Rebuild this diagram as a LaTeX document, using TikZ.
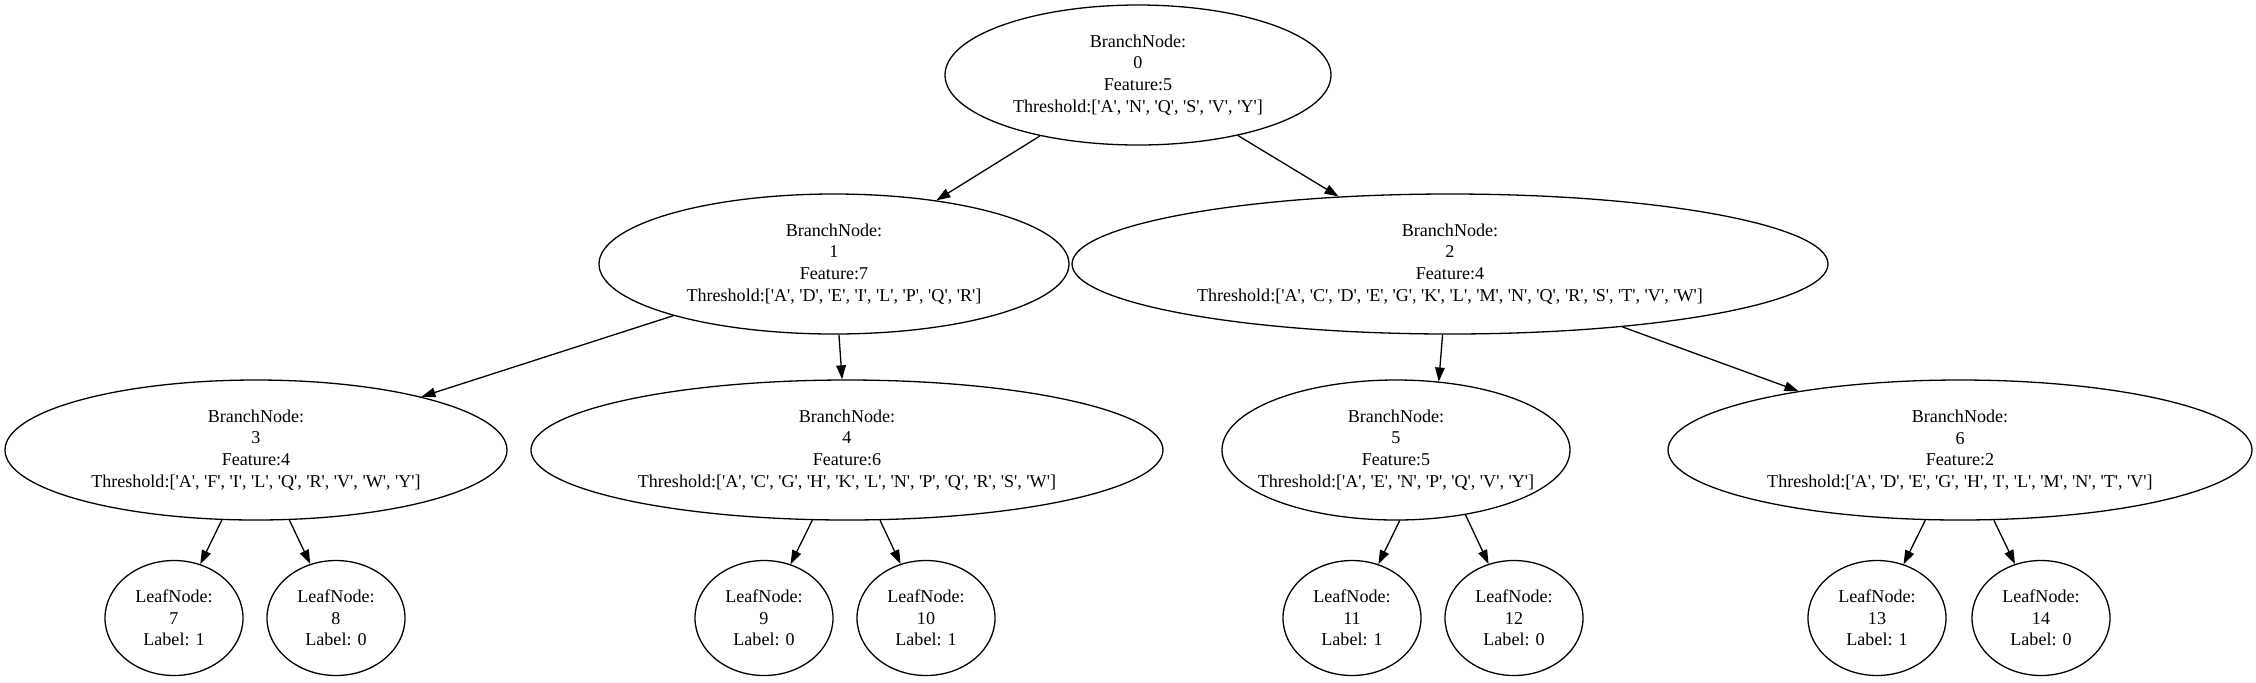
\documentclass[tikz,border=0pt]{standalone}
\usepackage{fontspec}
\setmainfont{Liberation Serif}
\usetikzlibrary{shapes.geometric, arrows.meta}
\newcommand{\tq}[1]{\textquotesingle#1\textquotesingle}

\begin{document}
\begin{tikzpicture}[x=0.5pt, y=-0.5pt, every node/.style={font=\fontsize{9.03pt}{10.84pt}\selectfont}]
    \tikzstyle{branch} = [ellipse, draw, line width=0.65pt, inner xsep=-40pt, inner ysep=0pt, minimum height=70pt, align=center]
    \tikzstyle{leaf} = [ellipse, draw, line width=0.65pt, inner sep=0pt, minimum width=69pt, minimum height=57.5pt, align=center]
    \tikzstyle{edge} = [-{Triangle[length=7pt, width=4.8pt]}, line width=0.65pt]

    \useasboundingbox (0,0) rectangle (2256,682);

    % branch nodes
    \node[branch, minimum width=193pt] (b0) at (1138,75) {BranchNode:\\0\\Feature:5\\Threshold:[\tq{A}, \tq{N}, \tq{Q}, \tq{S}, \tq{V}, \tq{Y}]};
    \node[branch, minimum width=235pt] (b1) at (834,264) {BranchNode:\\1\\Feature:7\\Threshold:[\tq{A}, \tq{D}, \tq{E}, \tq{I}, \tq{L}, \tq{P}, \tq{Q}, \tq{R}]};
    \node[branch, minimum width=378pt] (b2) at (1450,264) {BranchNode:\\2\\Feature:4\\Threshold:[\tq{A}, \tq{C}, \tq{D}, \tq{E}, \tq{G}, \tq{K}, \tq{L}, \tq{M}, \tq{N}, \tq{Q}, \tq{R}, \tq{S}, \tq{T}, \tq{V}, \tq{W}]};
    \node[branch, minimum width=251pt] (b3) at (256,450) {BranchNode:\\3\\Feature:4\\Threshold:[\tq{A}, \tq{F}, \tq{I}, \tq{L}, \tq{Q}, \tq{R}, \tq{V}, \tq{W}, \tq{Y}]};
    \node[branch, minimum width=316pt] (b4) at (847,450) {BranchNode:\\4\\Feature:6\\Threshold:[\tq{A}, \tq{C}, \tq{G}, \tq{H}, \tq{K}, \tq{L}, \tq{N}, \tq{P}, \tq{Q}, \tq{R}, \tq{S}, \tq{W}]};
    \node[branch, minimum width=174pt] (b5) at (1396,450) {BranchNode:\\5\\Feature:5\\Threshold:[\tq{A}, \tq{E}, \tq{N}, \tq{P}, \tq{Q}, \tq{V}, \tq{Y}]};
    \node[branch, minimum width=292pt] (b6) at (1960,450) {BranchNode:\\6\\Feature:2\\Threshold:[\tq{A}, \tq{D}, \tq{E}, \tq{G}, \tq{H}, \tq{I}, \tq{L}, \tq{M}, \tq{N}, \tq{T}, \tq{V}]};

    % leaf nodes
    \node[leaf] (l7) at (174,618) {LeafNode:\\7\\Label: 1};
    \node[leaf] (l8) at (336,618) {LeafNode:\\8\\Label: 0};
    \node[leaf] (l9) at (764,618) {LeafNode:\\9\\Label: 0};
    \node[leaf] (l10) at (926,618) {LeafNode:\\10\\Label: 1};
    \node[leaf] (l11) at (1352,618) {LeafNode:\\11\\Label: 1};
    \node[leaf] (l12) at (1514,618) {LeafNode:\\12\\Label: 0};
    \node[leaf] (l13) at (1877,618) {LeafNode:\\13\\Label: 1};
    \node[leaf] (l14) at (2041,618) {LeafNode:\\14\\Label: 0};

    \draw[edge] (b0) -- (b1);
    \draw[edge] (b0) -- (b2);
    \draw[edge] (b1) -- (b3);
    \draw[edge] (b1) -- (b4);
    \draw[edge] (b2.264) -- (b5.58);
    \draw[edge] (b2) -- (b6);
    \draw[edge] (b3) -- (l7);
    \draw[edge] (b3) -- (l8);
    \draw[edge] (b4) -- (l9);
    \draw[edge] (b4) -- (l10);
    \draw[edge] (b5.273) -- (l11);
    \draw[edge] (b5.317) -- (l12);
    \draw[edge] (b6) -- (l13);
    \draw[edge] (b6) -- (l14);
\end{tikzpicture}
\end{document}
